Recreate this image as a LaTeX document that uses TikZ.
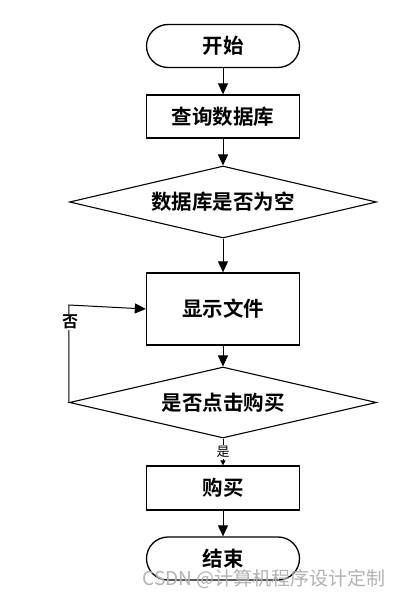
\documentclass[tikz,border=0pt]{standalone}
\usepackage{fontspec}
\newfontfamily\cjk{Noto Sans CJK SC}
\newfontfamily\cjkb{Noto Sans CJK SC Bold}
\usetikzlibrary{shapes.geometric,arrows.meta}
\begin{document}
\begin{tikzpicture}[x=1pt,y=-1pt,
  box/.style={draw, line width=1.3pt, rectangle, inner sep=0pt, minimum width=153pt, font=\cjkb\fontsize{20.5}{23}\selectfont},
  term/.style={box, rounded corners=21.5pt, minimum height=43pt},
  dec/.style={draw, line width=1.1pt, diamond, inner sep=0pt, shape aspect=4, minimum width=307pt, font=\cjkb\fontsize{20.5}{23}\selectfont},
  conn/.style={line width=1pt, -{Triangle[length=11pt,width=10pt]}},
  lab/.style={fill=white, inner sep=1pt}
]
\useasboundingbox (0,0) rectangle (400,596);
\node[term] (start) at (223,46) {开始};
\node[box, minimum height=43pt] (query) at (223,116.5) {查询数据库};
\node[dec, minimum height=72pt] (d1) at (223,202) {数据库是否为空};
\node[box, minimum height=72pt] (show) at (223,309) {显示文件};
\node[dec, minimum height=71pt] (d2) at (223,402.5) {是否点击购买};
\node[box, minimum height=44pt] (buy) at (223,488) {购买};
\node[term] (end) at (223,558.5) {结束};

\draw[conn] (start) -- (query);
\draw[conn] (query) -- (d1);
\draw[conn] (d1) -- (show);
\draw[conn] (show) -- (d2);
\draw[conn] (buy) -- (end);
\draw[line width=1pt, -{Triangle[length=5pt,width=5pt]}] (d2.south) -- (buy.north);
\node[lab, font=\cjk\fontsize{13}{15}\selectfont] (yes) at (223,452) {是};
\coordinate (corner) at (d2.west |- 0,305);
\draw[conn] (d2.west) -- (corner) -- (show.west);
\node[lab, font=\cjkb\fontsize{16}{18}\selectfont] (no) at (70,322) {否};
\node[text=black!30, font=\cjk\fontsize{19}{21}\selectfont, anchor=east, inner sep=0pt] (wm) at (386,579) {CSDN @计算机程序设计定制};
\end{tikzpicture}
\end{document}
